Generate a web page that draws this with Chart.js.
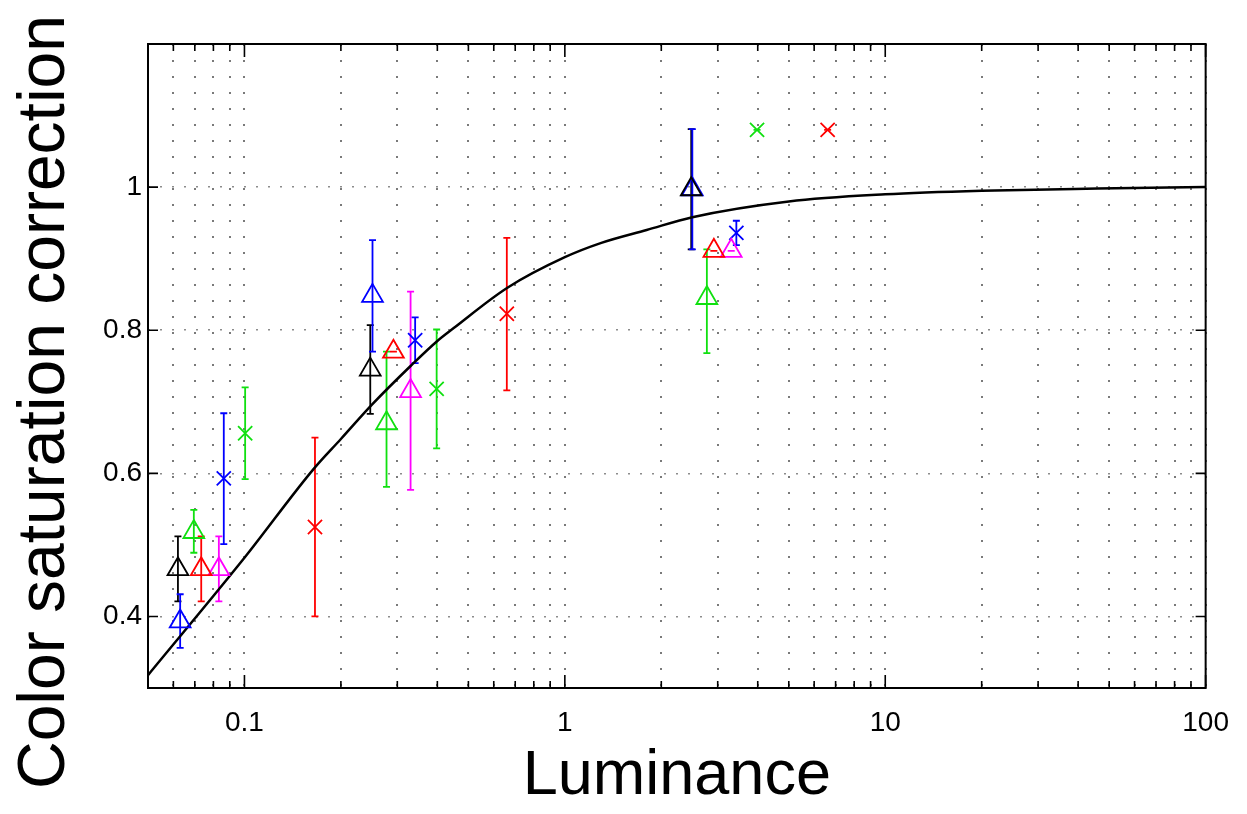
<!DOCTYPE html>
<html>
<head>
<meta charset="utf-8">
<script src="https://cdn.jsdelivr.net/npm/chart.js@4/dist/chart.umd.min.js"></script>
<style>
  html, body { margin: 0; padding: 0; background: #ffffff; }
  #wrap { width: 1247px; height: 814px; }
</style>
</head>
<body>
<div id="wrap"><canvas id="chart" width="1247" height="814"></canvas></div>
<script>
// Model curve: saturation correction vs. luminance
const curveLum = [0.05, 0.1, 0.165, 0.2, 0.25, 0.33, 0.4, 0.45, 0.66, 1, 1.3, 1.8, 2.5, 5, 10, 20, 46, 100];
const curveSat = [0.318, 0.482, 0.607, 0.648, 0.696, 0.75, 0.785, 0.803, 0.859, 0.902, 0.922, 0.94, 0.958, 0.98, 0.99, 0.995, 0.998, 1.0];

// Measured points (triangles), with error bar limits
const blackTriX  = [0.062, 0.247, 2.48];
const blackTriY  = [0.466, 0.745, 0.997];
const blackTriLo = [0.421, 0.683, 0.913];
const blackTriHi = [0.512, 0.807, 1.081];

const blueTriX  = [0.063, 0.251, 2.50];
const blueTriY  = [0.393, 0.848, 0.997];
const blueTriLo = [0.356, 0.770, 0.913];
const blueTriHi = [0.431, 0.926, 1.081];

const greenTriX  = [0.0695, 0.2776, 2.775];
const greenTriY  = [0.518, 0.670, 0.845];
const greenTriLo = [0.489, 0.581, 0.768];
const greenTriHi = [0.549, 0.770, 0.913];

const redTriX  = [0.0733, 0.2917, 2.918];
const redTriY  = [0.466, 0.770, 0.911];
const redTriLo = [0.421, 0.770, 0.911];
const redTriHi = [0.512, 0.770, 0.911];

const magentaTriX  = [0.0832, 0.330, 3.306];
const magentaTriY  = [0.466, 0.715, 0.911];
const magentaTriLo = [0.421, 0.577, 0.911];
const magentaTriHi = [0.512, 0.854, 0.911];

// Measured points (crosses), with error bar limits
const blueCrossX  = [0.0862, 0.341, 3.43];
const blueCrossY  = [0.593, 0.786, 0.936];
const blueCrossLo = [0.501, 0.754, 0.919];
const blueCrossHi = [0.684, 0.818, 0.953];

const greenCrossX  = [0.1005, 0.398, 3.98];
const greenCrossY  = [0.656, 0.718, 1.080];
const greenCrossLo = [0.592, 0.635, 1.080];
const greenCrossHi = [0.720, 0.801, 1.080];

const redCrossX  = [0.166, 0.659, 6.61];
const redCrossY  = [0.525, 0.823, 1.080];
const redCrossLo = [0.400, 0.716, 1.080];
const redCrossHi = [0.650, 0.929, 1.080];

// Axis ticks
const xTickValues = [0.1, 1, 10, 100];
const xTickLabels = ['0.1', '1', '10', '100'];
const yTickValues = [0.4, 0.6, 0.8, 1];
const yTickLabels = ['0.4', '0.6', '0.8', '1'];

const X_MIN = 0.05, X_MAX = 100, Y_MIN = 0.3, Y_MAX = 1.2;
const FONT = '"Liberation Sans", Arial, sans-serif';

// every 1..9 multiple of each decade inside the range (log grid positions)
const xGridValues = [];
for (let e = -2; e <= 2; e++) {
  for (let m = 1; m <= 9; m++) {
    const v = parseFloat((m * Math.pow(10, e)).toPrecision(6));
    if (v > X_MIN && v <= X_MAX) xGridValues.push(v);
  }
}

const pts = (xs, ys) => xs.map((x, i) => ({ x: x, y: ys[i] }));

function markerSet(label, xs, ys, lo, hi, color, style) {
  const tri = style === 'triangle';
  return {
    label: label,
    data: pts(xs, ys),
    errLo: lo,
    errHi: hi,
    showLine: false,
    pointStyle: tri ? 'triangle' : 'crossRot',
    pointRadius: tri ? 12 : 10,
    pointBorderWidth: 1.8,
    borderColor: color,
    pointBorderColor: color,
    backgroundColor: 'rgba(0,0,0,0)',
    pointBackgroundColor: 'rgba(0,0,0,0)',
    order: 1
  };
}

// vertical error bars with caps, placed through the chart scales
const errorBars = {
  id: 'errorBars',
  beforeDatasetsDraw(chart) {
    const { ctx, scales: { x, y } } = chart;
    ctx.save();
    chart.data.datasets.forEach((ds) => {
      if (!ds.errLo) return;
      ctx.strokeStyle = ds.borderColor;
      ctx.lineWidth = 1.8;
      ds.data.forEach((p, i) => {
        const px = x.getPixelForValue(p.x);
        const yl = y.getPixelForValue(ds.errLo[i]);
        const yh = y.getPixelForValue(ds.errHi[i]);
        const cap = 3.5;
        ctx.beginPath();
        ctx.moveTo(px, yl); ctx.lineTo(px, yh);
        ctx.moveTo(px - cap, yl); ctx.lineTo(px + cap, yl);
        ctx.moveTo(px - cap, yh); ctx.lineTo(px + cap, yh);
        ctx.stroke();
      });
    });
    ctx.restore();
  }
};

// box around the plot, inward tick marks, and the rotated y title
const frame = {
  id: 'frame',
  afterDraw(chart) {
    const { ctx, chartArea: a, scales: { x, y } } = chart;
    ctx.save();
    ctx.strokeStyle = '#000';
    ctx.lineWidth = 2;
    ctx.strokeRect(a.left, a.top, a.right - a.left, a.bottom - a.top);
    ctx.lineWidth = 1.6;
    ctx.beginPath();
    xGridValues.forEach((v) => {
      const px = x.getPixelForValue(v);
      const len = xTickValues.includes(v) ? 13 : 7;
      ctx.moveTo(px, a.bottom); ctx.lineTo(px, a.bottom - len);
      ctx.moveTo(px, a.top); ctx.lineTo(px, a.top + len);
    });
    yTickValues.forEach((v) => {
      const py = y.getPixelForValue(v);
      ctx.moveTo(a.left, py); ctx.lineTo(a.left + 10, py);
      ctx.moveTo(a.right, py); ctx.lineTo(a.right - 10, py);
    });
    ctx.stroke();

    ctx.translate(46, 402);
    ctx.rotate(-Math.PI / 2);
    ctx.fillStyle = '#000';
    ctx.font = '66px ' + FONT;
    ctx.textAlign = 'center';
    ctx.textBaseline = 'middle';
    ctx.fillText('Color saturation correction', 0, 0);
    ctx.restore();
  }
};

const datasets = [
  {
    label: 'model',
    data: pts(curveLum, curveSat),
    showLine: true,
    borderColor: '#000000',
    borderWidth: 2.5,
    pointRadius: 0,
    cubicInterpolationMode: 'monotone',
    order: 2
  },
  markerSet('black △', blackTriX, blackTriY, blackTriLo, blackTriHi, '#000000', 'triangle'),
  markerSet('blue △', blueTriX, blueTriY, blueTriLo, blueTriHi, '#0000ff', 'triangle'),
  markerSet('green △', greenTriX, greenTriY, greenTriLo, greenTriHi, '#10e010', 'triangle'),
  markerSet('red △', redTriX, redTriY, redTriLo, redTriHi, '#ff0000', 'triangle'),
  markerSet('magenta △', magentaTriX, magentaTriY, magentaTriLo, magentaTriHi, '#ff00ff', 'triangle'),
  markerSet('blue ×', blueCrossX, blueCrossY, blueCrossLo, blueCrossHi, '#0000ff', 'cross'),
  markerSet('green ×', greenCrossX, greenCrossY, greenCrossLo, greenCrossHi, '#10e010', 'cross'),
  markerSet('red ×', redCrossX, redCrossY, redCrossLo, redCrossHi, '#ff0000', 'cross')
];

new Chart(document.getElementById('chart'), {
  type: 'scatter',
  data: { datasets: datasets },
  plugins: [errorBars, frame],
  options: {
    responsive: false,
    animation: false,
    events: [],
    layout: { padding: { left: 0, top: 44, right: 40, bottom: 0 } },
    plugins: { legend: { display: false }, tooltip: { enabled: false } },
    scales: {
      x: {
        type: 'logarithmic',
        min: X_MIN,
        max: X_MAX,
        afterBuildTicks: (s) => { s.ticks = xGridValues.map((v) => ({ value: v })); },
        afterFit: (s) => { s.height = 126; },
        ticks: {
          autoSkip: false,
          maxRotation: 0,
          padding: 18,
          color: '#000',
          font: { family: FONT, size: 28 },
          callback: (v) => {
            const i = xTickValues.indexOf(v);
            return i >= 0 ? xTickLabels[i] : '';
          }
        },
        grid: { color: '#7a7a7a', lineWidth: 2, drawTicks: false },
        border: { display: false, dash: [2, 14] },
        title: {
          display: true,
          text: 'Luminance',
          color: '#000',
          font: { family: FONT, size: 63 },
          padding: { top: 0, bottom: 0 }
        }
      },
      y: {
        min: Y_MIN,
        max: Y_MAX,
        afterBuildTicks: (s) => { s.ticks = yTickValues.map((v) => ({ value: v })); },
        afterFit: (s) => { s.width = 148; },
        ticks: {
          padding: 6,
          color: '#000',
          font: { family: FONT, size: 28 },
          callback: (v) => {
            const i = yTickValues.indexOf(v);
            return i >= 0 ? yTickLabels[i] : '';
          }
        },
        grid: { color: '#8c8c8c', lineWidth: 1.6, drawTicks: false },
        border: { display: false, dash: [2, 10] }
      }
    }
  }
});
</script>
</body>
</html>
